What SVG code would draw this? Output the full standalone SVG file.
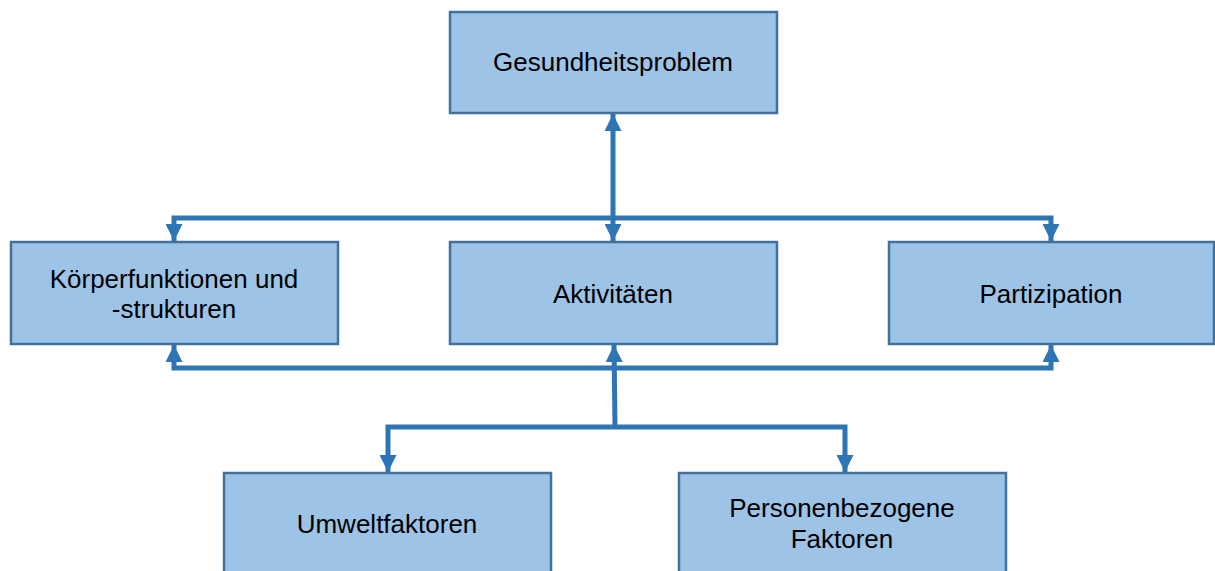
<svg xmlns="http://www.w3.org/2000/svg" width="1215" height="571" viewBox="0 0 1215 571">
<style>
.box{fill:#9dc3e6;stroke:#41719c;stroke-width:2.5}
.lbl{font-family:"Liberation Sans",Arial,sans-serif;font-size:26px;fill:#000;text-anchor:middle}
.con{fill:none;stroke:#2e75b6;stroke-width:5;stroke-linejoin:miter}
</style>
<defs>
<marker id="ah" viewBox="0 0 10 10" refX="10" refY="5" markerWidth="19" markerHeight="17" markerUnits="userSpaceOnUse" orient="auto-start-reverse">
<path d="M0,0 L10,5 L0,10 Z" fill="#2e75b6"/>
</marker>
</defs>
<rect width="1215" height="571" fill="#fff"/>
<g id="connectors">
<path class="con" d="M613,114 L613,241" marker-start="url(#ah)" marker-end="url(#ah)"/>
<path class="con" d="M174,241 L174,218 L1051,218 L1051,241" marker-start="url(#ah)" marker-end="url(#ah)"/>
<path class="con" d="M174,345 L174,368 L1051,368 L1051,345" marker-start="url(#ah)" marker-end="url(#ah)"/>
<path class="con" d="M615,427 L614,345" marker-end="url(#ah)"/>
<path class="con" d="M388,472 L388,427 L845,427 L845,472" marker-start="url(#ah)" marker-end="url(#ah)"/>
</g>
<g id="n-gesundheitsproblem">
<rect class="box" x="450" y="12" width="327" height="101"/>
<text class="lbl" x="613" y="71">Gesundheitsproblem</text>
</g>
<g id="n-koerperfunktionen">
<rect class="box" x="11" y="242" width="327" height="102"/>
<text class="lbl" x="174" y="288">Körperfunktionen und</text>
<text class="lbl" x="174" y="318">-strukturen</text>
</g>
<g id="n-aktivitaeten">
<rect class="box" x="450" y="242" width="327" height="102"/>
<text class="lbl" x="613" y="303">Aktivitäten</text>
</g>
<g id="n-partizipation">
<rect class="box" x="889" y="242" width="325" height="102"/>
<text class="lbl" x="1051" y="303">Partizipation</text>
</g>
<g id="n-umweltfaktoren">
<rect class="box" x="224" y="473" width="327" height="104"/>
<text class="lbl" x="387" y="533">Umweltfaktoren</text>
</g>
<g id="n-personenbezogene">
<rect class="box" x="679" y="473" width="327" height="104"/>
<text class="lbl" x="842" y="517">Personenbezogene</text>
<text class="lbl" x="842" y="548">Faktoren</text>
</g>
</svg>
